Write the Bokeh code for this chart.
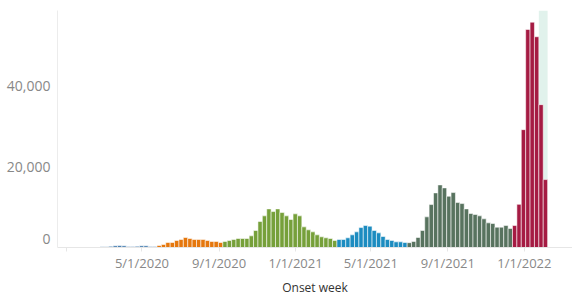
import pandas as pd
from bokeh.plotting import figure
from bokeh.models import Range1d, FixedTicker, BoxAnnotation, ColumnDataSource
from bokeh.embed import file_html
from bokeh.resources import INLINE

# ---- data (weekly case counts by onset week, Monday week starts) ----
first_week = "2020-01-13"
wave_colors = ["#4f84b4", "#e5770d", "#76a03a", "#1c8cc0", "#58735f", "#a51b43"]
wave1 = [20, 30, 60, 100, 120, 150, 180, 200, 300, 450, 500, 450, 250, 250, 300, 450, 450, 250, 250]
wave2 = [500, 740, 1240, 1240, 1730, 1980, 2480, 2230, 1980, 1980, 1980, 1730, 1490, 1490, 1240]
wave3 = [1490, 1730, 1980, 2230, 2230, 2230, 2890, 4210, 6440, 7850, 9580, 8920, 9580, 8670,
         7850, 6940, 8350, 7850, 5120, 4380, 3880, 3140, 2650, 2400, 2230, 1730]
wave4 = [1980, 1980, 2400, 3140, 3880, 4950, 5450, 5290, 4210, 3630, 2730, 1980, 1730, 1400, 1400, 1240]
wave5 = [1200, 1500, 2480, 4210, 7600, 10650, 13550, 15530, 14790, 12720, 13630, 11150, 10900,
         9580, 8430, 8180, 7850, 7110, 6110, 5950, 5040, 5040, 5450, 4710]
wave6 = [5450, 10700, 29240, 54100, 55900, 52290, 35440, 16850]
incomplete_weeks = 2

tick_dates = ["2020-01-01", "2020-05-01", "2020-09-01", "2021-01-01", "2021-05-01", "2021-09-01", "2022-01-01"]
tick_labels = ["", "5/1/2020", "9/1/2020", "1/1/2021", "5/1/2021", "9/1/2021", "1/1/2022"]
y_ticks = [0, 20000, 40000]
y_tick_labels = ["0", "20,000", "40,000"]

# ---- build table ----
waves = [wave1, wave2, wave3, wave4, wave5, wave6]
counts, colors = [], []
for w, c in zip(waves, wave_colors):
    counts += w
    colors += [c] * len(w)
epoch = pd.Timestamp("2020-01-01")
weeks = pd.date_range(first_week, periods=len(counts), freq="7D")
xday = [(d - epoch).days + 3.5 for d in weeks]
src = ColumnDataSource(dict(x=xday, top=counts, color=colors))

W, H = 572, 298
BL, BT, BR, BB = 57, 10, 0, 51
x_start, x_end = -13.7, 807.7
y_end = 58800
p = figure(width=W, height=H, output_backend="svg", toolbar_location=None,
           x_range=Range1d(x_start, x_end), y_range=Range1d(0, y_end),
           min_border_left=BL, min_border_right=BR, min_border_top=BT, min_border_bottom=BB)
p.outline_line_color = None
p.xgrid.visible = False
p.ygrid.visible = False

# highlight of incomplete weeks
hl_left = xday[-incomplete_weeks] - 3.5
hl_right = xday[-1] + 3.5
p.add_layout(BoxAnnotation(left=hl_left, right=hl_right, fill_color="#e1f2ec", fill_alpha=1,
                           line_color=None, level="underlay"))

p.vbar(x="x", top="top", width=7, bottom=0, source=src, fill_color="color",
       line_color="white", line_alpha=0.55, line_width=1)

font = "Open Sans"
# x axis
xa = p.xaxis[0]
xa.ticker = FixedTicker(ticks=[(pd.Timestamp(d) - epoch).days for d in tick_dates])
xa.major_label_overrides = {(pd.Timestamp(d) - epoch).days: l for d, l in zip(tick_dates, tick_labels)}
xa.axis_label = "Onset week"
xa.axis_label_text_font = font
xa.axis_label_text_font_size = "12px"
xa.axis_label_text_font_style = "normal"
xa.axis_label_text_color = "#333333"
xa.axis_label_standoff = 4
xa.major_label_text_font = font
xa.major_label_text_font_size = "13px"
xa.major_label_text_color = "#888888"
xa.major_label_standoff = 2
xa.major_tick_out = 4
xa.major_tick_in = 0
xa.minor_tick_out = 0
xa.minor_tick_in = 0
xa.axis_line_color = "#e6e6e6"
xa.major_tick_line_color = "#e6e6e6"

# y axis: the "0" label is lifted 8px above the baseline as in the original
frame_h = H - BT - BB
zero_lift = round(8 * y_end / frame_h)
y_tick_pos = [t if t != 0 else zero_lift for t in y_ticks]
ya = p.yaxis[0]
ya.ticker = FixedTicker(ticks=y_tick_pos)
ya.major_label_overrides = {t: l for t, l in zip(y_tick_pos, y_tick_labels)}
ya.major_label_text_font = font
ya.major_label_text_font_size = "14px"
ya.major_label_text_color = "#888888"
ya.major_label_standoff = 7
ya.major_tick_out = 0
ya.major_tick_in = 0
ya.minor_tick_out = 0
ya.minor_tick_in = 0
ya.axis_line_color = "#ececec"

open("out.html", "w").write(file_html(p, INLINE))
